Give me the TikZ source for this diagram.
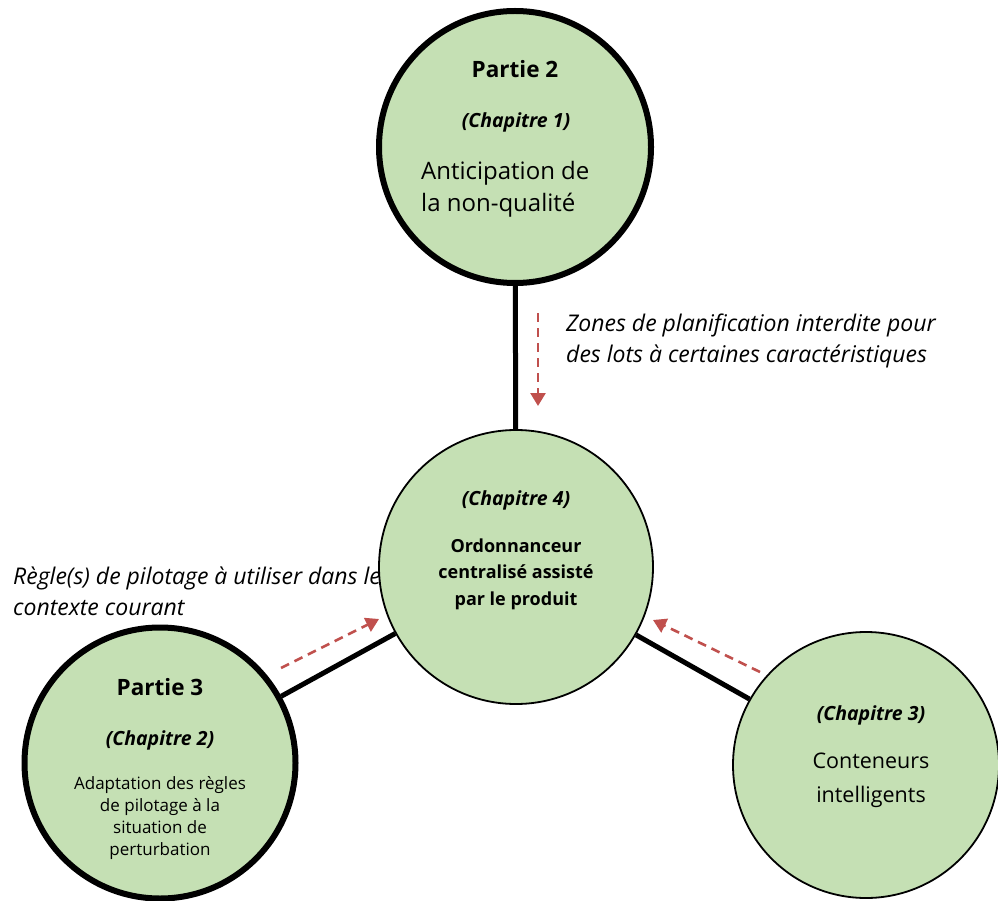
\documentclass[tikz,border=0pt]{standalone}
\usepackage{fontspec}
\setmainfont{Open Sans}
\usetikzlibrary{arrows.meta}
\definecolor{cfill}{HTML}{C5E0B4}
\definecolor{cred}{HTML}{C0504D}
\begin{document}
\begin{tikzpicture}[x=1pt,y=-1pt,
  bubble/.style={circle, fill=cfill, draw=black, inner sep=0pt},
  thickb/.style={bubble, line width=6pt},
  thinb/.style={bubble, line width=1.8pt},
  conn/.style={line width=5pt},
  flow/.style={cred, line width=2.6pt, dash pattern=on 9pt off 6pt, -{Triangle[length=13pt,width=15pt]}},
  ttl/.style={font=\fontsize{22.5}{26}\selectfont\bfseries, anchor=base, inner sep=0pt},
  chap/.style={font=\fontsize{19.5}{22}\selectfont\bfseries\itshape, anchor=base, inner sep=0pt},
  txt/.style={anchor=base, inner sep=0pt, align=center},
  note/.style={anchor=base west, inner sep=0pt, align=left, font=\fontsize{23}{31}\selectfont\itshape}
]
\useasboundingbox (0,0) rectangle (998,901);

% circles
\node[thickb, minimum size=272pt] (top) at (515,147) {};
\node[thinb, minimum size=274pt] (cen) at (516,567) {};
\node[thickb, minimum size=271pt] (bl) at (160,763) {};
\node[thinb, minimum size=266pt] (br) at (866,765) {};

% connectors
\draw[conn] (top) -- (cen);
\draw[conn] (cen) -- (bl);
\draw[conn] (cen) -- (br);

% top circle text (multi-line nodes: base = last line)
\node[ttl] (t1) at (515,78) {Partie 2};
\node[chap] (t2) at (516,128) {(Chapitre 1)};
\node[txt, anchor=base west, align=left, font=\fontsize{24}{32}\selectfont] (t3) at (421,212) {Anticipation de\\la non-qualité};

% centre circle text
\node[chap] (c1) at (516,505) {(Chapitre 4)};
\node[txt, font=\fontsize{18}{26.5}\selectfont\bfseries] (c2) at (516,605) {Ordonnanceur\\centralisé assisté\\par le produit};

% bottom-left circle text
\node[ttl] (b1) at (160,695) {Partie 3};
\node[chap] (b2) at (160,745) {(Chapitre 2)};
\node[txt, font=\fontsize{17}{22}\selectfont] (b3) at (160,855) {Adaptation des règles\\de pilotage à la\\situation de\\perturbation};

% bottom-right circle text
\node[chap] (r1) at (871,720) {(Chapitre 3)};
\node[txt, font=\fontsize{21.5}{34}\selectfont] (r2) at (871,802) {Conteneurs\\intelligents};

% annotations
\node[note] (n1) at (566,362) {Zones de planification interdite pour\\des lots à certaines caractéristiques};
\node[note] (n2) at (13,615) {Règle(s) de pilotage à utiliser dans le\\contexte courant};

% dashed flow arrows
\coordinate (a1s) at (538,313);
\coordinate (a1e) at (538,406);
\coordinate (a2s) at (281,668);
\coordinate (a2e) at (379,619);
\coordinate (a3s) at (760,672);
\coordinate (a3e) at (653,620);
\draw[flow] (a1s) -- (a1e);
\draw[flow] (a2s) -- (a2e);
\draw[flow] (a3s) -- (a3e);
\end{tikzpicture}
\end{document}
